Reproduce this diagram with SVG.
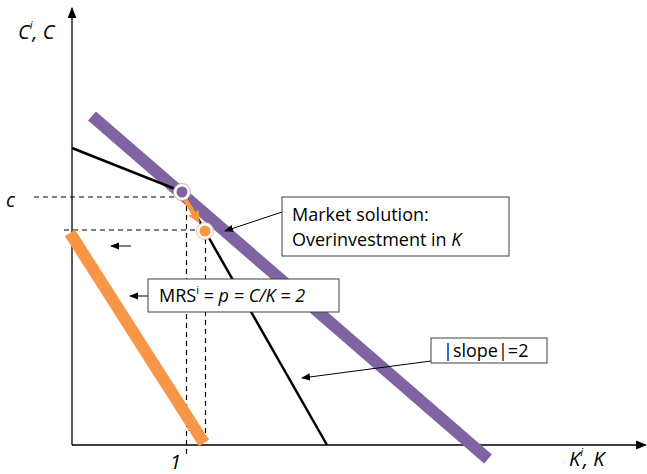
<svg xmlns="http://www.w3.org/2000/svg" width="647" height="474" viewBox="0 0 647 474">
<defs>
<style>
text{font-family:"Open Sans","Liberation Sans",sans-serif;fill:#000}
.lbl{font-size:20px;font-style:italic}
.box{fill:#fff;stroke:#404040;stroke-width:1}
.bt{font-size:18px}
.dash{stroke:#000;stroke-width:1.2;stroke-dasharray:5 4;fill:none}
.ptr{stroke:#000;stroke-width:1;fill:none;marker-end:url(#ah)}
</style>
<marker id="ah" viewBox="0 0 10 10" refX="9" refY="5" markerWidth="9" markerHeight="9" markerUnits="userSpaceOnUse" orient="auto"><path d="M0,1 L10,5 L0,9 Z" fill="#000"/></marker>
<marker id="axh" viewBox="0 0 10 10" refX="9" refY="5" markerWidth="11" markerHeight="11" markerUnits="userSpaceOnUse" orient="auto"><path d="M0,1 L10,5 L0,9 Z" fill="#000"/></marker>
<marker id="oh" viewBox="0 0 10 10" refX="4" refY="5" markerWidth="12" markerHeight="12" markerUnits="userSpaceOnUse" orient="auto"><path d="M0,0 L10,5 L0,10 Z" fill="#f79646"/></marker>
</defs>
<g id="axes">
<line x1="72" y1="445" x2="72" y2="8" stroke="#000" stroke-width="1.3" marker-end="url(#axh)"/>
<line x1="72" y1="445" x2="646" y2="445" stroke="#000" stroke-width="1.3" marker-end="url(#axh)"/>
<text class="lbl" x="18" y="39">C<tspan font-size="11" dy="-10">i</tspan><tspan dy="10">, C</tspan></text>
<text class="lbl" x="569" y="466" font-size="19">K<tspan font-size="11" dy="-10">i</tspan><tspan dy="10">, K</tspan></text>
<text class="lbl" x="6" y="207">c</text>
<text class="lbl" x="170" y="469">1</text>
</g>
<g id="connectors">
<line class="dash" x1="34" y1="197" x2="186" y2="197"/>
<line class="dash" x1="64" y1="230" x2="206" y2="230"/>
<line class="dash" x1="186.5" y1="197" x2="186.5" y2="456"/>
<line class="dash" x1="205.5" y1="230" x2="205.5" y2="445"/>
<line id="purple" x1="92" y1="116" x2="488" y2="459" stroke="#8064a2" stroke-width="12"/>
<line id="orange" x1="70" y1="233" x2="204" y2="443" stroke="#f79646" stroke-width="12"/>
<polyline points="72,148 183,192 205,231 327,445" fill="none" stroke="#000" stroke-width="2.5"/>
<line x1="184" y1="197" x2="196" y2="217" stroke="#f79646" stroke-width="5" marker-end="url(#oh)"/>
<line class="ptr" x1="131" y1="246" x2="111" y2="246"/>
<line class="ptr" x1="148" y1="296" x2="130" y2="296"/>
<line class="ptr" x1="282" y1="212" x2="225" y2="231"/>
<line class="ptr" x1="431" y1="361" x2="302" y2="378"/>
</g>
<g id="pointA">
<circle cx="182" cy="192" r="7" fill="#8064a2" stroke="#fff" stroke-width="3"/>
<circle cx="182" cy="192" r="8.5" fill="none" stroke="#a6a6a6" stroke-width="0.8"/>
</g>
<g id="pointB">
<circle cx="205" cy="231" r="7" fill="#f79646" stroke="#fff" stroke-width="3"/>
<circle cx="205" cy="231" r="8.5" fill="none" stroke="#e0b090" stroke-width="0.8"/>
</g>
<g id="market">
<rect class="box" x="282" y="197" width="227" height="59"/>
<text class="bt" x="292" y="221">Market solution:</text>
<text class="bt" x="292" y="246">Overinvestment in <tspan font-style="italic">K</tspan></text>
</g>
<g id="mrs">
<rect class="box" x="148" y="279" width="191" height="33"/>
<text class="bt" x="159" y="302" font-size="17">MRS<tspan font-size="11" dy="-8">i</tspan><tspan dy="8"> = </tspan><tspan font-style="italic">p = C/K = 2</tspan></text>
</g>
<g id="slope">
<rect class="box" x="431" y="338" width="116" height="25"/>
<text class="bt" x="443" y="357" font-size="17">|slope|=2</text>
</g>
</svg>
